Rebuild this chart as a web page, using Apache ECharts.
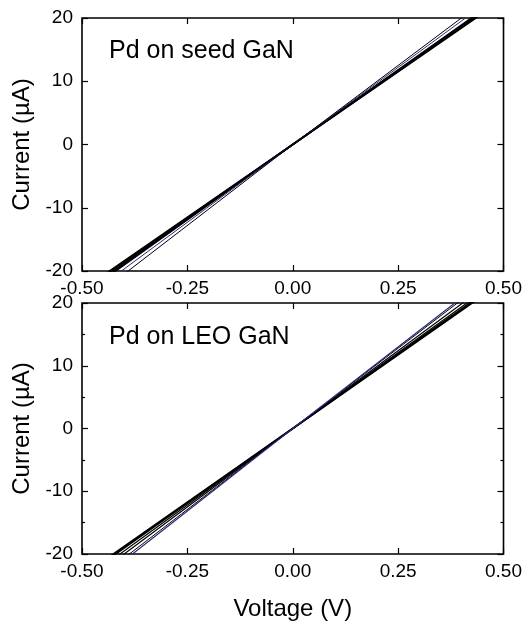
<!DOCTYPE html>
<html>
<head>
<meta charset="utf-8">
<script src="https://cdn.jsdelivr.net/npm/echarts@6/dist/echarts.min.js"></script>
<style>
  html, body { margin: 0; padding: 0; background: #fff; }
  #chart { width: 525px; height: 622px; }
</style>
</head>
<body>
<div id="chart"></div>
<script>
// voltage sweep endpoints (V)
var voltage = [-0.5, 0, 0.5];

// top panel: Pd on seed GaN, current in uA
var seedThin = [-25.6, 0, 25.0];
var seedBlue = [-24.6, 0, 24.4];
var seedA = [-23.8, 0, 23.4];
var seedB = [-23.5, 0, 23.6];
var seedC = [-23.2, 0, 23.2];
var seedD = [-23.0, 0, 23.0];

// bottom panel: Pd on LEO GaN
var leoBlue = [-26.3, 0, 26.0];
var leoThin = [-25.8, 0, 25.6];
var leoA = [-25.0, 0, 24.8];
var leoB = [-24.4, 0, 24.2];
var leoC = [-23.8, 0, 23.8];
var leoD = [-23.5, 0, 23.5];

var xTicks = [-0.5, -0.25, 0, 0.25, 0.5];
var yTicks = [-20, -10, 0, 10, 20];

var font = 'Liberation Sans, Arial, sans-serif';

function pts(ys) {
    var out = [];
    for (var i = 0; i < voltage.length; i++) {
        out.push([voltage[i], ys[i]]);
    }
    return out;
}

function line(ys, gi, color, w) {
    return {
        type: 'line',
        xAxisIndex: gi * 2,
        yAxisIndex: gi * 2,
        data: pts(ys),
        showSymbol: false,
        clip: true,
        silent: true,
        lineStyle: { color: color, width: w },
        z: 2
    };
}

function xAx(gi, top) {
    return {
        type: 'value', gridIndex: gi, min: -0.5, max: 0.5, interval: 0.25,
        position: top ? 'top' : 'bottom',
        axisLine: { show: false, onZero: false },
        axisTick: { show: true, inside: true, length: 6, lineStyle: { color: '#000', width: 1.2 } },
        axisLabel: {
            show: !top, color: '#000', fontFamily: font, fontSize: 19, margin: 8,
            formatter: function (v) { return v.toFixed(2); },
            showMinLabel: true, showMaxLabel: true
        },
        splitLine: { show: false },
        name: (!top && gi == 1) ? 'Voltage (V)' : '',
        nameLocation: 'middle', nameGap: 43,
        nameTextStyle: { color: '#000', fontFamily: font, fontSize: 24 }
    };
}

function yAx(gi, right, minor) {
    return {
        type: 'value', gridIndex: gi, min: -20, max: 20, interval: 10,
        position: right ? 'right' : 'left',
        axisLine: { show: false, onZero: false },
        axisTick: { show: true, inside: true, length: 6, lineStyle: { color: '#000', width: 1.2 } },
        minorTick: { show: minor, splitNumber: 2, length: 3, lineStyle: { color: '#000', width: 1.2 } },
        axisLabel: {
            show: !right, color: '#000', fontFamily: font, fontSize: 19, margin: 9,
            showMinLabel: true, showMaxLabel: true
        },
        splitLine: { show: false },
        name: right ? '' : 'Current (\u00b5A)',
        nameLocation: 'middle', nameGap: 47, nameRotate: 90,
        nameTextStyle: { color: '#000', fontFamily: font, fontSize: 24 }
    };
}

var chart = echarts.init(document.getElementById('chart'), null, { renderer: 'canvas' });

var option = {
    animation: false,
    backgroundColor: '#fff',
    grid: [
        { left: 82, top: 18, width: 422, height: 253, show: true, borderColor: '#000', borderWidth: 1.6, backgroundColor: 'transparent' },
        { left: 82, top: 303, width: 422, height: 253, show: true, borderColor: '#000', borderWidth: 1.6, backgroundColor: 'transparent' }
    ],
    xAxis: [xAx(0, false), xAx(0, true), xAx(1, false), xAx(1, true)],
    yAxis: [yAx(0, false, false), yAx(0, true, false), yAx(1, false, true), yAx(1, true, true)],
    graphic: [
        { type: 'text', left: 109, top: 39, style: { text: 'Pd on seed GaN', font: '25px ' + font, fill: '#000' } },
        { type: 'text', left: 109, top: 325, style: { text: 'Pd on LEO GaN', font: '25px ' + font, fill: '#000' } }
    ],
    series: [
        line(seedD, 0, '#000', 1.6),
        line(seedC, 0, '#000', 1.6),
        line(seedB, 0, '#000', 1.6),
        line(seedA, 0, '#000', 1.6),
        line(seedBlue, 0, '#2a2a80', 1),
        line(seedThin, 0, '#000', 1),
        line(leoD, 1, '#000', 1.8),
        line(leoC, 1, '#000', 1.8),
        line(leoB, 1, '#000', 1.2),
        line(leoA, 1, '#000', 1.2),
        line(leoThin, 1, '#000', 1),
        line(leoBlue, 1, '#2a2a80', 1.2)
    ]
};

chart.setOption(option);
</script>
</body>
</html>
